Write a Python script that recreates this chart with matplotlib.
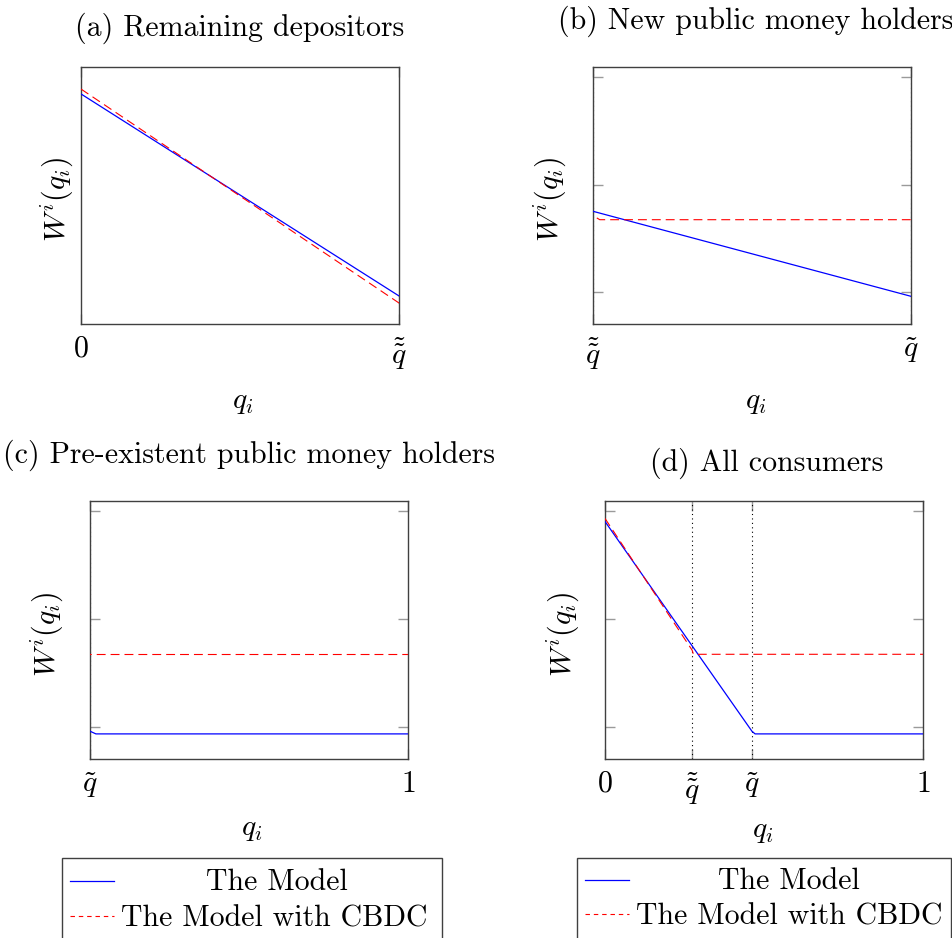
import matplotlib
matplotlib.use("Agg")
import matplotlib.pyplot as plt
from matplotlib.lines import Line2D
from matplotlib.patches import Rectangle

plt.rcParams['font.family'] = 'cmr10'
plt.rcParams['mathtext.fontset'] = 'cm'
plt.rcParams['axes.unicode_minus'] = False
plt.rcParams['axes.formatter.use_mathtext'] = True

# Thresholds on the q_i axis
q_dtilde = 0.274   # double tilde q
q_tilde = 0.462    # tilde q

# Welfare W^i(q_i), piecewise linear
model_x = [0.0, q_tilde, q_tilde + 0.01, 1.0]
model_y = [0.2907, 0.0960, 0.0935, 0.0935]
cbdc_x = [0.0, q_dtilde, q_dtilde + 0.004, 1.0]
cbdc_y = [0.2935, 0.1712, 0.1674, 0.1674]

titles = ['(a) Remaining depositors', '(b) New public money holders',
          '(c) Pre-existent public money holders', '(d) All consumers']
legend_labels = ['The Model', 'The Model with CBDC']
lbl_dt = r'$\tilde{\tilde{q}}$'
lbl_t = r'$\tilde{q}$'

W, H = 952, 938
FS = 21.5
fig = plt.figure(figsize=(W / 100, H / 100), dpi=100)


def fx(x):
    return x / W


def fy(y):
    return 1 - y / H


def make_axes(l, r, t, b):
    return fig.add_axes([fx(l), fy(b), (r - l) / W, (b - t) / H])


dash = (0, (8, 4.5))
tick_col = '#9a9a9a'
spine_col = '#404040'

# pixel boxes of the four panels (left, right, top, bottom)
boxes = [(81, 399, 67, 324), (593, 911, 67, 324),
         (90, 408, 501, 759), (605, 923, 501, 759)]
xlims = [(0, q_dtilde), (q_dtilde, q_tilde), (q_tilde, 1), (0, 1)]
ylims = [(0.1592, 0.3061), (0.0702, 0.3097), (0.0702, 0.3097), (0.0702, 0.3097)]
xticks = [[0, q_dtilde], [q_dtilde, q_tilde], [q_tilde, 1], [0, q_dtilde, q_tilde, 1]]
xticklabels = [['$0$', lbl_dt], [lbl_dt, lbl_t], [lbl_t, '$1$'],
               ['$0$', lbl_dt, lbl_t, '$1$']]
vlines = [[], [q_dtilde, q_tilde], [q_tilde], [q_dtilde, q_tilde]]

axes = []
for i, box in enumerate(boxes):
    ax = make_axes(*box)
    ax.plot(model_x, model_y, color='blue', lw=0.9, zorder=3)
    ax.plot(cbdc_x, cbdc_y, color='red', lw=0.8, linestyle=dash, zorder=3)
    for v in vlines[i]:
        ax.axvline(v, color='black', lw=0.8, linestyle=(0, (1, 3)), zorder=2)
    ax.set_xlim(*xlims[i])
    ax.set_ylim(*ylims[i])
    ax.set_xticks(xticks[i])
    ax.set_xticklabels(xticklabels[i], fontsize=FS)
    if i == 0:
        ax.set_yticks([])
    else:
        ax.set_yticks([0.1, 0.2, 0.3])
        ax.set_yticklabels([])
    ax.tick_params(direction='in', length=7, width=1.0, color=tick_col,
                   top=True, right=True, pad=8)
    for s in ax.spines.values():
        s.set_color(spine_col)
        s.set_linewidth(1.0)
    axes.append(ax)

# titles
fig.text(fx(240), fy(36), titles[0], fontsize=FS, ha='center', va='baseline')
fig.text(fx(558), fy(29), titles[1], fontsize=FS, ha='left', va='baseline')
fig.text(fx(3), fy(463), titles[2], fontsize=FS, ha='left', va='baseline')
fig.text(fx(767), fy(471), titles[3], fontsize=FS, ha='center', va='baseline')

# axis labels
for (x, y) in [(57, 199), (550, 199), (47, 634), (563, 634)]:
    fig.text(fx(x), fy(y), r'$W^i(q_i)$', fontsize=FS, rotation=90,
             ha='center', va='center')
for (x, y) in [(243, 402), (756, 402), (252, 829), (763, 831)]:
    fig.text(fx(x), fy(y), r'$q_i$', fontsize=FS, ha='center', va='center')


# legends below the lower panels
def draw_legend(left, right, top, base1, base2):
    fig.patches.append(Rectangle((fx(left), fy(top + 100)), (right - left) / W,
                                 100 / H, transform=fig.transFigure,
                                 fill=False, edgecolor=spine_col, lw=1.0,
                                 clip_on=False))
    fig.lines.append(Line2D([fx(left + 8), fx(left + 52)], [fy(base1 - 9)] * 2,
                            transform=fig.transFigure, color='blue', lw=0.9))
    fig.lines.append(Line2D([fx(left + 8), fx(left + 52)], [fy(base2 - 10)] * 2,
                            transform=fig.transFigure, color='red', lw=0.8,
                            linestyle=(0, (4, 3.5))))
    tx0 = left + 59
    tx1 = right - 10
    fig.text(fx((tx0 + tx1) / 2), fy(base1), legend_labels[0], fontsize=FS,
             ha='center', va='baseline')
    fig.text(fx(tx0), fy(base2), legend_labels[1], fontsize=FS,
             ha='left', va='baseline')


draw_legend(62, 442, 858, 890, 926)
draw_legend(577, 951, 858, 889, 924)

fig.savefig('out.png', dpi=100)
